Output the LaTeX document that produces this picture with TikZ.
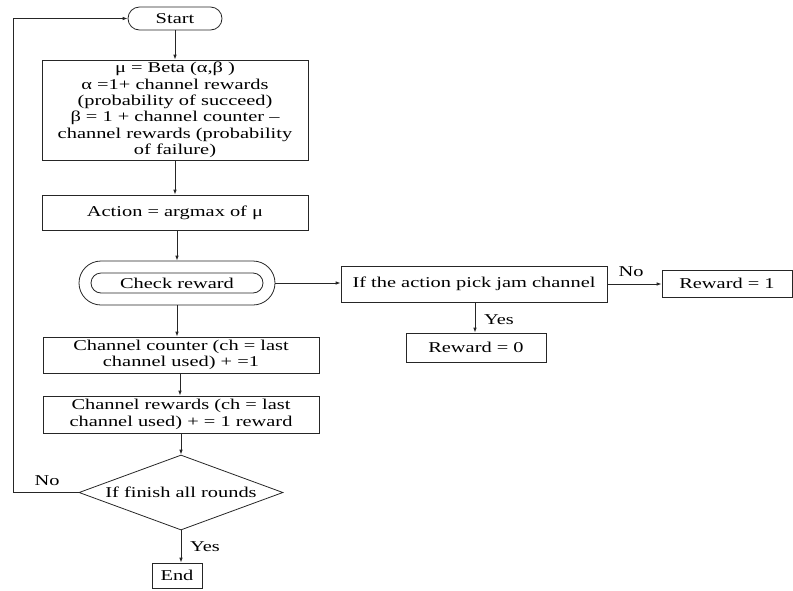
\documentclass[tikz,border=0pt]{standalone}
\usepackage{fontspec}
\setmainfont{Liberation Serif}[FakeStretch=1.36]
\usetikzlibrary{arrows.meta,shapes.geometric}

\tikzset{
  base/.style={draw=black!85, line width=0.8pt, inner sep=0pt, align=center},
  box/.style={base, rectangle},
  pill/.style={base, rectangle, rounded corners=#1},
  decision/.style={base, diamond, aspect=2.72},
  arr/.style={draw=black!85, line width=0.8pt, -{Latex[length=5pt,width=3.6pt]}},
  lbl/.style={inner sep=0pt}
}

\begin{document}
\begin{tikzpicture}[x=1pt, y=-1pt, font=\fontsize{15}{16.4}\selectfont]
\useasboundingbox (0,0) rectangle (793,590);

% main column
\node[pill=11.5, minimum width=94, minimum height=23] (start) at (175,18.5) {Start};
\node[box, minimum width=266, minimum height=100] (beta) at (175,110)
  {μ = Beta (α,β )\\ α =1+ channel rewards\\ (probability of succeed)\\
   β = 1 + channel counter –\\ channel rewards (probability\\ of failure)};
\node[box, minimum width=266, minimum height=35] (act) at (175,212.5) {Action = argmax of μ};
\node[pill=22, minimum width=196, minimum height=44] (chk) at (177,283) {};
\node[pill=10, minimum width=172, minimum height=20] (chkin) at (177,283) {Check reward};
\node[box, minimum width=276, minimum height=36] (cnt) at (181,355)
  {Channel counter (ch = last\\ channel used) + =1};
\node[box, minimum width=276, minimum height=37] (rew) at (181,414.5)
  {Channel rewards (ch = last\\ channel used) + = 1 reward};
\node[decision, minimum width=204, minimum height=75] (fin) at (181,492.5) {If finish all rounds};
\node[box, minimum width=50, minimum height=25] (end) at (177,575.5) {End};

% jamming branch
\node[box, minimum width=266, minimum height=36] (jam) at (474,284) {If the action pick jam channel};
\node[box, minimum width=140, minimum height=29] (r0) at (476,347.5) {Reward = 0};
\node[box, minimum width=130, minimum height=27] (r1) at (727,283.5) {Reward = 1};

% loop-back corners
\coordinate (loopB) at (13,492.5);
\coordinate (loopT) at (13,18.5);

% connectors
\draw[arr] (start.south) -- (start.south |- beta.north);
\draw[arr] (beta.south) -- (beta.south |- act.north);
\draw[arr] ([xshift=2pt]act.south) -- ([xshift=2pt]act.south |- chk.north);
\draw[arr] (chk.south) -- (chk.south |- cnt.north);
\draw[arr] ([xshift=-1pt]cnt.south) -- ([xshift=-1pt]cnt.south |- rew.north);
\draw[arr] (rew.south) -- (fin.north);
\draw[arr] (fin.south) -- (fin.south |- end.north);
\draw[arr] (fin.west) -- (loopB) -- (loopT) -- (start.west);
\draw[arr] (chk.east) -- (chk.east -| jam.west);
\draw[arr] (jam.east) -- (jam.east -| r1.west);
\draw[arr] ([xshift=1pt]jam.south) -- ([xshift=1pt]jam.south |- r0.north);

% branch labels
\node[lbl] (noLoop) at (47,481) {No};
\node[lbl] (yesEnd) at (205,547) {Yes};
\node[lbl] (yesJam) at (499,320) {Yes};
\node[lbl] (noJam) at (631,272) {No};
\end{tikzpicture}
\end{document}
